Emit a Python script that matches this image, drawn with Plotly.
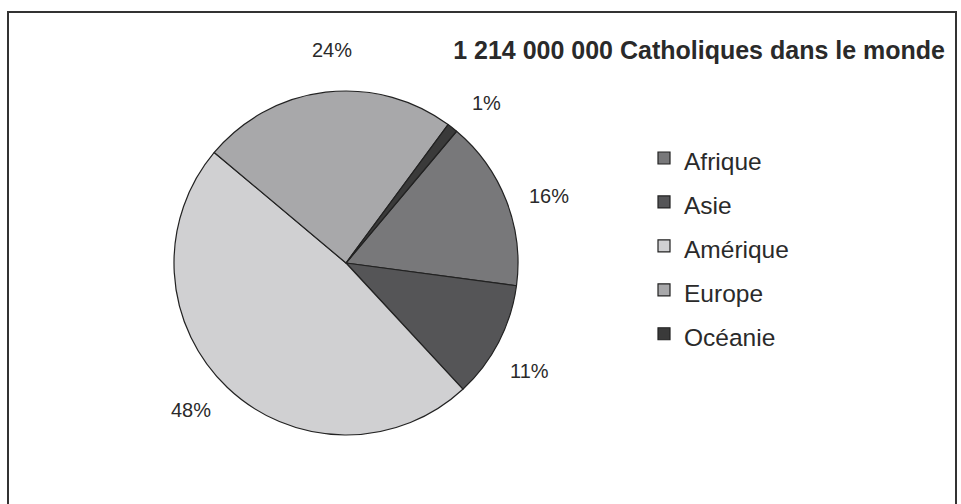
import math
import plotly.graph_objects as go

regions = ["Afrique", "Asie", "Amérique", "Europe", "Océanie"]
shares = [16, 11, 48, 24, 1]
colors = ["#78787a", "#555557", "#d0d0d2", "#a8a8aa", "#3a3a3a"]
title_text = "1 214 000 000 Catholiques dans le monde"

W, H = 961, 504
cx, cy, r = 346, 263, 172
START_ANGLE = 40          # degrees clockwise from 12 o'clock
LABEL_RADIUS = 1.24       # label distance as a fraction of the pie radius
LABEL_SHIFT = 3           # small clockwise shift of label placement (degrees)
FONT = "Liberation Sans, Arial, sans-serif"
TXT = "#2a2a2a"

legend_labels = ['<span style="font-size:24.5px">%s</span>' % s for s in regions]

fig = go.Figure(go.Pie(
    labels=legend_labels,
    values=shares,
    sort=False,
    direction="clockwise",
    rotation=START_ANGLE,
    marker=dict(colors=colors, line=dict(color="#222222", width=1.2)),
    textinfo="none",
    domain=dict(x=[(cx - r) / W, (cx + r) / W], y=[1 - (cy + r) / H, 1 - (cy - r) / H]),
    hoverinfo="skip",
))

# percentage labels placed around the pie from the cumulative shares
total = sum(shares)
annotations = []
cum = 0
for v in shares:
    mid = START_ANGLE + LABEL_SHIFT + (cum + v / 2) / total * 360
    cum += v
    a = math.radians(mid)
    px = cx + LABEL_RADIUS * r * math.sin(a)
    py = cy - LABEL_RADIUS * r * math.cos(a)
    annotations.append(dict(
        text="%d%%" % v, x=px / W, y=1 - py / H, xref="paper", yref="paper",
        xanchor="center", yanchor="middle", showarrow=False,
        font=dict(family=FONT, size=20, color=TXT)))

fig.update_layout(
    width=W, height=H,
    margin=dict(l=0, r=0, t=0, b=0),
    paper_bgcolor="white",
    font=dict(family=FONT, color=TXT),
    title=dict(text="<b>%s</b>" % title_text, x=945 / W, xanchor="right",
               y=1 - 50 / H, yanchor="middle",
               font=dict(family=FONT, size=25, color=TXT)),
    legend=dict(x=644 / W, xanchor="left", y=1 - 131 / H, yanchor="top",
                font=dict(family=FONT, size=31.5, color=TXT),
                bgcolor="rgba(0,0,0,0)"),
    annotations=annotations,
    shapes=[dict(type="rect", xref="paper", yref="paper",
                 x0=8 / W, x1=956 / W, y0=-0.05, y1=1 - 12 / H,
                 line=dict(color="#333333", width=2))],
)

fig.write_html("out.html", config={"displayModeBar": False},
               post_script="document.body.style.margin='0';document.body.style.overflow='hidden';")
